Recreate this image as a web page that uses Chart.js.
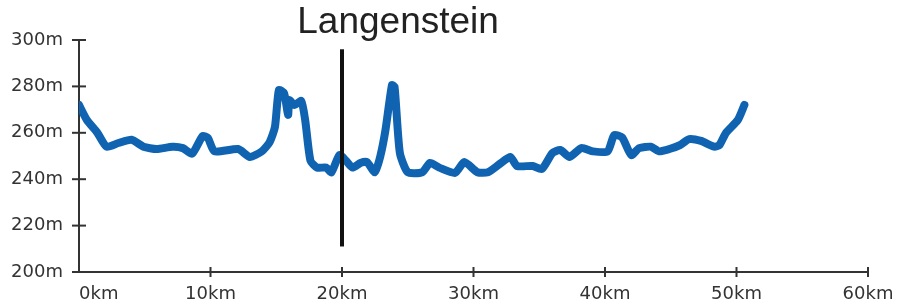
<!DOCTYPE html>
<html>
<head>
<meta charset="utf-8">
<script src="https://cdn.jsdelivr.net/npm/chart.js@4"></script>
<style>
  html, body { margin: 0; padding: 0; background: #fff; }
  #wrap { width: 902px; height: 306px; }
</style>
</head>
<body>
<div id="wrap"><canvas id="profile" width="902" height="306"></canvas></div>
<script>
// distance along route (km) and elevation (m)
const distKm = [0, 0.6, 1.4, 2.1, 3.0, 4.0, 4.9, 5.9, 7.1, 7.9, 8.6, 9.4, 9.8, 10.3, 12.1, 13.0, 13.9, 14.5, 14.9, 15.2, 15.6, 15.9, 16.0, 16.4, 16.9, 17.2, 17.6, 18.1, 18.8, 19.2, 19.8, 20.3, 20.8, 21.4, 21.9, 22.5, 22.9, 23.3, 23.8, 24.0, 24.4, 25.0, 26.1, 26.7, 27.4, 28.6, 29.3, 30.3, 31.1, 32.0, 32.8, 33.3, 34.5, 35.2, 36.0, 36.6, 37.3, 38.2, 39.1, 40.2, 40.7, 41.3, 42.0, 42.6, 43.5, 44.1, 44.9, 45.7, 46.4, 47.3, 48.3, 48.7, 49.2, 50.1, 50.6];
const elevM = [272, 265.5, 260, 254, 255.6, 257, 254, 253, 254, 253.4, 251, 258.6, 257.8, 252, 253, 249.6, 252, 256, 262.5, 278.4, 277, 267.7, 274, 272, 273.7, 265.5, 248, 245, 245, 243, 250.4, 248, 245, 247, 247.4, 243, 249.6, 261, 280.6, 279.7, 251.3, 243, 243, 247, 245, 242.7, 247.4, 243, 243, 246.6, 249.6, 245.7, 245.7, 244.4, 251.3, 252.6, 249.6, 253.4, 252, 252, 259, 258, 250.4, 253.4, 254, 252, 253, 254.7, 257.3, 256.5, 254, 254.7, 260, 265.5, 272];

// marker for Langenstein
const markerName = "Langenstein";
const markerKm = [20, 20];
const markerM = [211, 296];

const xTicks = [0, 10, 20, 30, 40, 50, 60];
const yTicks = [200, 220, 240, 260, 280, 300];

const axisColor = "#333";
const labelFont = "18px 'DejaVu Sans'";

// cross-shaped tick marks, x labels and the place name
const decorPlugin = {
  id: "decor",
  afterDraw(chart) {
    const { ctx, scales: { x, y }, chartArea } = chart;
    ctx.save();
    ctx.strokeStyle = axisColor;
    ctx.lineWidth = 2;
    yTicks.forEach(v => {
      const py = y.getPixelForValue(v);
      ctx.beginPath();
      ctx.moveTo(chartArea.left - 7, py);
      ctx.lineTo(chartArea.left + 7, py);
      ctx.stroke();
    });
    xTicks.forEach(v => {
      if (v === 0) return;
      const px = x.getPixelForValue(v);
      ctx.beginPath();
      ctx.moveTo(px, chartArea.bottom - 5);
      ctx.lineTo(px, chartArea.bottom + 5);
      ctx.stroke();
    });

    ctx.fillStyle = axisColor;
    ctx.font = labelFont;
    ctx.textBaseline = "alphabetic";
    xTicks.forEach(v => {
      const px = x.getPixelForValue(v);
      ctx.textAlign = v === 0 ? "left" : "center";
      ctx.fillText(v + "km", px, 299);
    });

    ctx.fillStyle = "#222";
    ctx.font = "37px 'Liberation Sans'";
    ctx.textAlign = "left";
    ctx.fillText(markerName, x.getPixelForValue(16.6), 33);
    ctx.restore();
  }
};

new Chart(document.getElementById("profile"), {
  type: "line",
  data: {
    datasets: [
      {
        data: distKm.map((d, i) => ({ x: d, y: elevM[i] })),
        borderColor: "#0f63b0",
        borderWidth: 8,
        borderCapStyle: "round",
        borderJoinStyle: "round",
        pointRadius: 0,
        tension: 0.2,
        order: 2
      },
      {
        data: markerKm.map((d, i) => ({ x: d, y: markerM[i] })),
        borderColor: "#111",
        borderWidth: 4,
        pointRadius: 0,
        order: 1
      }
    ]
  },
  options: {
    responsive: false,
    animation: false,
    layout: { padding: { top: 40, right: 34, left: 0, bottom: 0 } },
    plugins: { legend: { display: false }, tooltip: { enabled: false } },
    scales: {
      x: {
        type: "linear",
        min: 0,
        max: 60,
        afterFit: s => { s.height = 34; },
        grid: { display: false },
        border: { display: true, color: axisColor, width: 2 },
        ticks: { display: false, stepSize: 10 }
      },
      y: {
        min: 200,
        max: 300,
        afterFit: s => { s.width = 79; },
        grid: { display: false },
        border: { display: true, color: axisColor, width: 2 },
        ticks: {
          stepSize: 20,
          padding: 8,
          color: axisColor,
          font: { family: "DejaVu Sans", size: 18 },
          callback: v => v + "m"
        }
      }
    }
  },
  plugins: [decorPlugin]
});
</script>
</body>
</html>
